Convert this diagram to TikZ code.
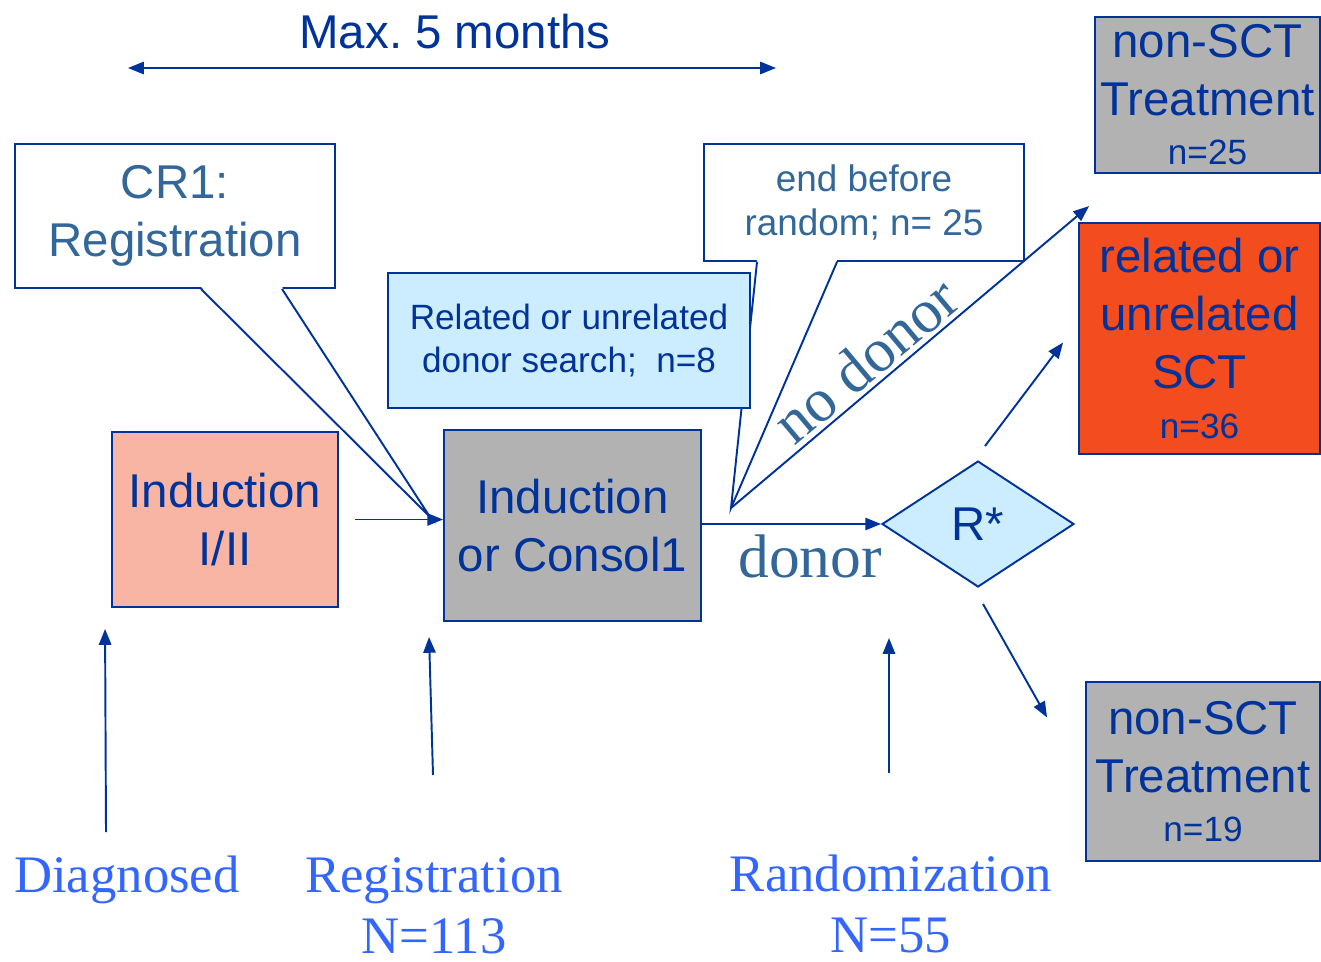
\documentclass[tikz,border=0pt]{standalone}
\usepackage{fontspec}
\setmainfont{Liberation Serif}
\newfontfamily\arialfont{Liberation Sans}
\usetikzlibrary{arrows.meta,calc,shapes.geometric,positioning}
\definecolor{dblue}{HTML}{003399}
\definecolor{sblue}{HTML}{336699}
\definecolor{bblue}{HTML}{3366FF}
\definecolor{salmon}{HTML}{F8B5A3}
\definecolor{boxgray}{HTML}{B2B2B2}
\definecolor{lblue}{HTML}{CCECFF}
\definecolor{sctred}{HTML}{F24C1F}
\tikzset{
  box/.style={draw=dblue, line width=1.1pt, align=center, inner sep=0pt, text=dblue,
    font=\arialfont\fontsize{27}{33}\selectfont},
  small/.style={font=\arialfont\fontsize{20}{25}\selectfont},
  arr/.style={dblue, line width=1.1pt, -{Triangle[length=9pt,width=7pt]}},
  serif/.style={font=\fontsize{30}{35}\selectfont, text=bblue, align=center},
  branch/.style={font=\fontsize{35}{40}\selectfont, text=sblue, inner sep=0pt},
}
\begin{document}
\begin{tikzpicture}[x=0.02cm, y=-0.02cm]
  \useasboundingbox (0,0) rectangle (1321,961);
  % ── time span ──
  \node[box, draw=none] (span) at (455,32) {Max.\ 5 months};
  \coordinate (spanL) at (128,68);
  \coordinate (spanR) at (776,68);
  \draw[dblue, line width=1.1pt, {Triangle[length=9pt,width=7pt]}-{Triangle[length=9pt,width=7pt]}]
    (spanL) -- (spanR);
  %
  % ── callouts ──
  \node[box, fill=white, text=sblue, minimum width=6.4cm, minimum height=2.88cm]
    (cr1) at (175,216) {CR1:\\Registration};
  \coordinate (cr1tip) at (430,517);
  \fill[white] ($(cr1.south)+(26,-2)$) -- (cr1tip) -- ($(cr1.south)+(107,-2)$) -- cycle;
  \draw[dblue, line width=1.1pt] ($(cr1.south)+(26,0)$) -- (cr1tip) -- ($(cr1.south)+(107,0)$);
  \node[box, fill=white, text=sblue, font=\arialfont\fontsize{21}{25}\selectfont,
    minimum width=6.4cm, minimum height=2.34cm] (endb) at (864,202.5) {end before\\random; n= 25};
  \coordinate (split) at (731,508);
  \fill[white] ($(endb.south)+(-107,-2)$) -- (split) -- ($(endb.south)+(-27,-2)$) -- cycle;
  \draw[dblue, line width=1.1pt] ($(endb.south)+(-107,0)$) -- (split) -- ($(endb.south)+(-27,0)$);
  %
  % ── main boxes ──
  \node[box, fill=lblue, small, minimum width=7.24cm, minimum height=2.7cm]
    (search) at (569,340.5) {Related or unrelated\\donor search;\ \ n=8};
  \node[box, fill=salmon, minimum width=4.52cm, minimum height=3.5cm]
    (ind1) at (225,519.5) {Induction\\I/II};
  \node[box, fill=boxgray, minimum width=5.14cm, minimum height=3.82cm]
    (ind2) at (572.5,525.5) {Induction\\or Consol1};
  \node[box, diamond, fill=lblue, minimum width=3.84cm, minimum height=2.52cm]
    (rstar) at (978,524) {R*};
  \node[box, fill=boxgray, minimum width=4.5cm, minimum height=3.12cm]
    (nsct1) at (1207.5,95) {non-SCT\\Treatment\\[-5pt]{\fontsize{20}{24}\selectfont n=25}};
  \node[box, fill=sctred, minimum width=4.82cm, minimum height=4.62cm]
    (sct) at (1199.5,338.5) {related or\\unrelated\\SCT\\[-5pt]{\fontsize{20}{24}\selectfont n=36}};
  \node[box, fill=boxgray, minimum width=4.68cm, minimum height=3.58cm]
    (nsct2) at (1203,771.5) {non-SCT\\Treatment\\[-5pt]{\fontsize{20}{24}\selectfont n=19}};
  %
  % ── connectors ──
  \draw[arr] ($(ind1.east)+(16,0)$) -- (ind2.west |- ind1.east);
  \draw[arr] (ind2.east |- rstar.west) -- (rstar.west);
  \draw[arr] (split) -- ($(sct.north west)+(11,-16)$);
  \draw[arr] ($(rstar.north)+(7,-14)$) -- ($(sct.west)+(-15,4)$);
  \draw[arr] ($(rstar.south)+(5,16)$) -- ($(nsct2.west)+(-38,-54)$);
  \node[branch, rotate=40, anchor=base] (nodonor) at (879,376) {no donor};
  \node[branch] (donor) at (810,556) {donor};
  %
  % ── time points ──
  \node[serif] (diag) at (127,880) {Diagnosed};
  \node[serif] (reg) at (434,906) {Registration\\N=113};
  \node[serif] (rand) at (891,904) {Randomization\\N=55};
  \coordinate (diagA) at (106,832);
  \coordinate (regA) at (433,775);
  \coordinate (randA) at (889,773);
  \draw[arr] (diagA) -- ($(ind1.south west)+(-6,21)$);
  \draw[arr] (regA) -- ($(ind2.south west)+(-14,15)$);
  \draw[arr] (randA) -- (randA |- 0,638);
\end{tikzpicture}
\end{document}
